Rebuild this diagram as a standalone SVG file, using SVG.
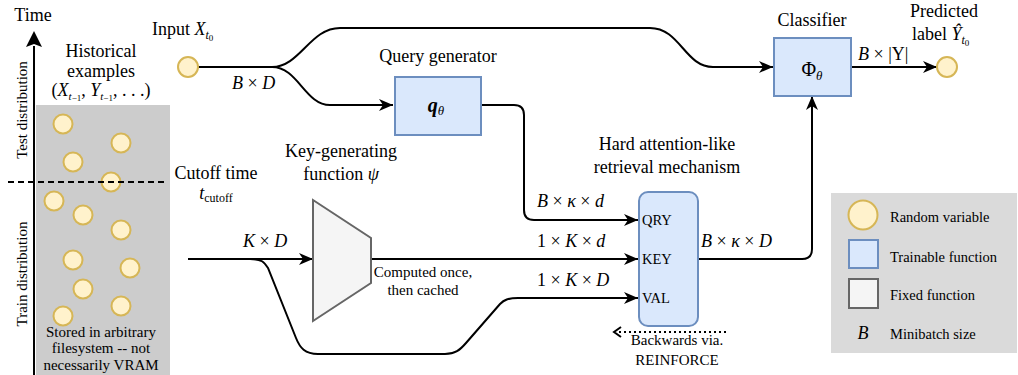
<svg xmlns="http://www.w3.org/2000/svg" width="1018" height="375" viewBox="0 0 1018 375">
<style>
text{font-family:'Liberation Serif','Times New Roman',Times,'Nimbus Roman','Noto Serif','DejaVu Serif',serif;fill:#000}
.t18{font-size:18px}
.t15{font-size:15px}
.t14{font-size:14.5px}
.m{font-style:italic}
.rv{fill:#fff2cc;stroke:#d6b656;stroke-width:2}
.tr{fill:#dae8fc;stroke:#6c8ebf;stroke-width:2}
.fx{fill:#f5f5f5;stroke:#666666;stroke-width:2}
.ln{fill:none;stroke:#000;stroke-width:2}
</style>
<defs>
<marker id="ar" markerUnits="userSpaceOnUse" markerWidth="16" markerHeight="14" refX="14" refY="6" orient="auto">
<path d="M0,0 L14,6 L0,12 L4,6 z" fill="#000"/>
</marker>
</defs>
<rect width="1018" height="375" fill="#ffffff"/>

<g id="history">
<rect x="36" y="105" width="134" height="270" fill="#cccccc"/>
<circle class="rv" cx="63" cy="124" r="9.5"/>
<circle class="rv" cx="121" cy="143" r="9.5"/>
<circle class="rv" cx="73" cy="162" r="9.5"/>
<circle class="rv" cx="111" cy="182" r="9.5"/>
<circle class="rv" cx="54" cy="201" r="9.5"/>
<circle class="rv" cx="83" cy="215" r="9.5"/>
<circle class="rv" cx="121" cy="230" r="9.5"/>
<circle class="rv" cx="73" cy="260" r="9.5"/>
<circle class="rv" cx="130" cy="268" r="9.5"/>
<circle class="rv" cx="83" cy="289" r="9.5"/>
<circle class="rv" cx="121" cy="306" r="9.5"/>
<circle class="rv" cx="63" cy="316" r="9.5"/>
<text class="t18" x="101" y="57" text-anchor="middle">Historical</text>
<text class="t18" x="101" y="77" text-anchor="middle">examples</text>
<text class="t18" x="101" y="96" text-anchor="middle">(<tspan class="m">X</tspan><tspan class="m" font-size="11" dy="4">t</tspan><tspan font-size="9" dy="1">−1</tspan><tspan dy="-5">, </tspan><tspan class="m">Y</tspan><tspan class="m" font-size="11" dy="4">t</tspan><tspan font-size="9" dy="1">−1</tspan><tspan dy="-5">, . . .)</tspan></text>
<text class="t15" x="101" y="337" text-anchor="middle">Stored in arbitrary</text>
<text class="t15" x="101" y="353" text-anchor="middle">filesystem -- not</text>
<text class="t15" x="101" y="370" text-anchor="middle">necessarily VRAM</text>
</g>

<g id="time-axis">
<line x1="34" y1="375" x2="34" y2="46" stroke="#000" stroke-width="2"/>
<path d="M34,31 L42,47 L34,44 L26,47 z" fill="#000"/>
<text class="t18" x="33" y="21" text-anchor="middle">Time</text>
<line x1="8" y1="182" x2="166" y2="182" stroke="#000" stroke-width="2" stroke-dasharray="6,4"/>
<text class="t15" transform="translate(27,110) rotate(-90)" text-anchor="middle">Test distribution</text>
<text class="t15" transform="translate(27,274) rotate(-90)" text-anchor="middle">Train distribution</text>
<text class="t18" x="216" y="179" text-anchor="middle">Cutoff time</text>
<text class="t18" x="216" y="199" text-anchor="middle"><tspan class="m">t</tspan><tspan font-size="12" dy="3">cutoff</tspan></text>
</g>

<g id="connectors">
<path class="ln" d="M198,67 L272,67 C300,67 310,28 340,28 L650,28 C680,28 685,67 713,67 L773,67" marker-end="url(#ar)"/>
<path class="ln" d="M272,67 C298,67 305,105 330,105 L393,105" marker-end="url(#ar)"/>
<path class="ln" d="M481,105 L514,105 Q524,105 524,115 L524,210 Q524,220 534,220 L638,220" marker-end="url(#ar)"/>
<path class="ln" d="M188,259 L313,259" marker-end="url(#ar)"/>
<path class="ln" d="M250,259 C262,259 264,262 268,268 L296,338 C300,348 305,354 318,354 L445,354 C455,354 460,350 466,343 L500,304 C504,300 508,298 518,298 L638,298" marker-end="url(#ar)"/>
<path class="ln" d="M371,259 L638,259" marker-end="url(#ar)"/>
<path class="ln" d="M698,259 L802,259 Q812,259 812,249 L812,96" marker-end="url(#ar)"/>
<path class="ln" d="M851,67 L937,67" marker-end="url(#ar)"/>
<path d="M726,332 L616,332" fill="none" stroke="#000" stroke-width="2" stroke-dasharray="2,3"/>
<path d="M621,327 L614,332 L621,337" fill="none" stroke="#000" stroke-width="2"/>
<text class="t18 m" x="232" y="89">B <tspan font-style="normal">×</tspan> D</text>
<text class="t18 m" x="243" y="247">K <tspan font-style="normal">×</tspan> D</text>
<text class="t18 m" x="537" y="207">B <tspan font-style="normal">×</tspan> κ <tspan font-style="normal">×</tspan> d</text>
<text class="t18 m" x="537" y="247"><tspan font-style="normal">1 ×</tspan> K <tspan font-style="normal">×</tspan> d</text>
<text class="t18 m" x="537" y="286"><tspan font-style="normal">1 ×</tspan> K <tspan font-style="normal">×</tspan> D</text>
<text class="t18 m" x="701" y="247">B <tspan font-style="normal">×</tspan> κ <tspan font-style="normal">×</tspan> D</text>
<text class="t18" x="858" y="60"><tspan class="m">B</tspan> × |Y|</text>
<text class="t15" x="423" y="277" text-anchor="middle">Computed once,</text>
<text class="t15" x="423" y="295" text-anchor="middle">then cached</text>
<text class="t15" x="677" y="345" text-anchor="middle">Backwards via.</text>
<text class="t15" x="677" y="365" text-anchor="middle">REINFORCE</text>
</g>

<g id="input">
<circle class="rv" cx="188" cy="67" r="10"/>
<text class="t18" x="152" y="35">Input <tspan class="m">X</tspan><tspan class="m" font-size="12" dy="4">t</tspan><tspan font-size="9" dy="2">0</tspan></text>
</g>

<g id="query-generator">
<rect class="tr" x="395" y="77" width="86" height="58"/>
<text class="t18" x="438" y="62" text-anchor="middle">Query generator</text>
<text x="436" y="112" text-anchor="middle" font-size="20" font-weight="bold" font-style="italic">q<tspan font-size="13" font-weight="normal" dy="3">θ</tspan></text>
</g>

<g id="classifier">
<rect class="tr" x="774" y="38" width="77" height="58"/>
<text class="t18" x="812" y="26" text-anchor="middle">Classifier</text>
<text x="812" y="76" text-anchor="middle" font-size="20">Φ<tspan class="m" font-size="13" dy="4">θ</tspan></text>
</g>

<g id="output">
<circle class="rv" cx="947" cy="67" r="10"/>
<text class="t18" x="944" y="17" text-anchor="middle">Predicted</text>
<text class="t18" x="912" y="40">label <tspan class="m">Ŷ</tspan><tspan class="m" font-size="12" dy="4">t</tspan><tspan font-size="9" dy="2">0</tspan></text>
</g>

<g id="key-function">
<polygon class="fx" points="313,200 371,238 371,283 313,321"/>
<text class="t18" x="341" y="157" text-anchor="middle">Key-generating</text>
<text class="t18" x="341" y="180" text-anchor="middle">function <tspan class="m">ψ</tspan></text>
</g>

<g id="retrieval">
<rect class="tr" x="639" y="192" width="59" height="134" rx="9"/>
<text class="t18" x="667" y="150" text-anchor="middle">Hard attention-like</text>
<text class="t18" x="667" y="173" text-anchor="middle">retrieval mechanism</text>
<text class="t14" x="642" y="225">QRY</text>
<text class="t14" x="642" y="264">KEY</text>
<text class="t14" x="642" y="303">VAL</text>
</g>

<g id="legend">
<rect x="831" y="193" width="186" height="160" fill="#dadada"/>
<circle class="rv" cx="863" cy="215" r="14.5"/>
<rect class="tr" x="849" y="240" width="29" height="28"/>
<rect class="fx" x="849" y="279" width="29" height="29"/>
<text class="t18 m" x="863" y="339" text-anchor="middle">B</text>
<text class="t14" x="890" y="222">Random variable</text>
<text class="t14" x="890" y="262">Trainable function</text>
<text class="t14" x="890" y="300">Fixed function</text>
<text class="t14" x="890" y="339">Minibatch size</text>
</g>
</svg>
